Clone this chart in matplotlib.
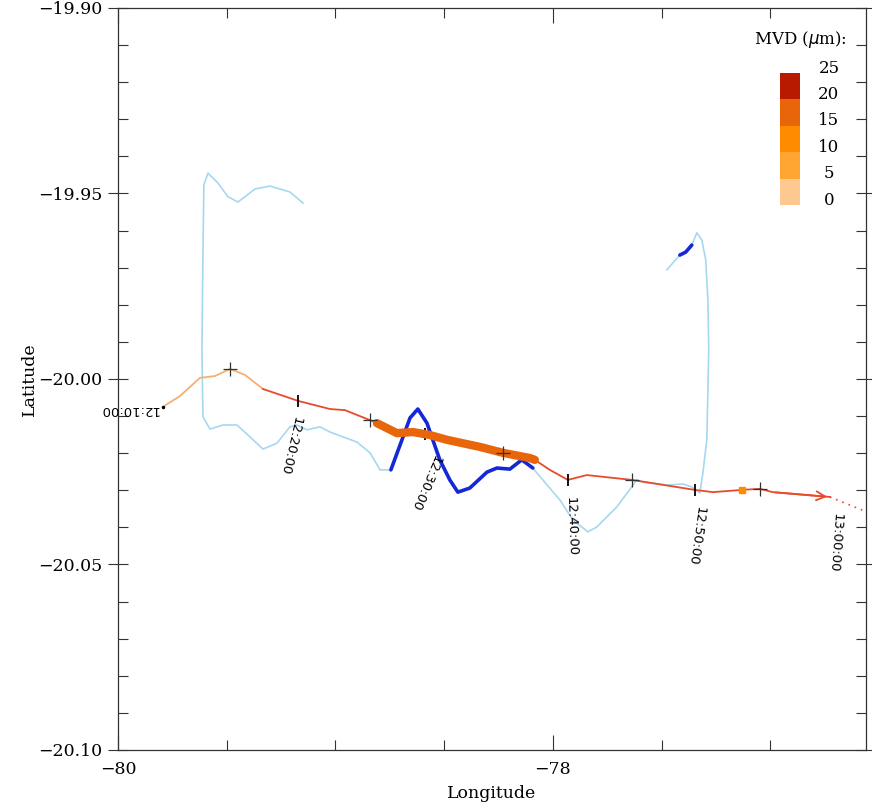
import matplotlib
matplotlib.use("Agg")
import matplotlib.pyplot as plt
from matplotlib.ticker import MultipleLocator
import numpy as np

# flight track (aircraft 1), lon/lat
track_lon = [-79.793, -79.715, -79.623, -79.554, -79.485, -79.416, -79.333, -79.172,
             -79.025, -78.956, -78.841, -78.809, -78.717, -78.644, -78.566, -78.487,
             -78.336, -78.230, -78.106, -78.083, -78.014, -77.931, -77.844, -77.637,
             -77.347, -77.264, -77.131, -77.048, -76.989, -76.726]
track_lat = [-20.0075, -20.0046, -19.9997, -19.9992, -19.9973, -19.9989, -20.0027, -20.0059,
             -20.0081, -20.0084, -20.0111, -20.0119, -20.0146, -20.0143, -20.0151, -20.0164,
             -20.0183, -20.0199, -20.0213, -20.0218, -20.0245, -20.0272, -20.0259, -20.0272,
             -20.0299, -20.0305, -20.0299, -20.0296, -20.0305, -20.0318]
# extrapolated part after 13:00
tail_lon = [-76.726, -76.566]
tail_lat = [-20.0318, -20.0356]

# MVD class of track pieces: (start index, end index, class)  class -1 = no data
track_pieces = [(0, 6, 0), (6, 11, -1), (11, 19, 3), (19, 29, -1)]
mvd_point = (-77.131, -20.0299)   # single MVD hit, 10-15 class

# second aircraft track
b_lon = [-79.149, -79.209, -79.301, -79.370, -79.448, -79.494, -79.540, -79.586, -79.605,
         -79.609, -79.614, -79.609, -79.577, -79.517, -79.453, -79.393, -79.333, -79.269,
         -79.209, -79.177, -79.131, -79.071, -79.025, -78.901, -78.841, -78.795, -78.745,
         -78.694, -78.657, -78.621, -78.579, -78.520, -78.474, -78.437, -78.382, -78.303,
         -78.257, -78.198, -78.143, -78.092, -78.074, -77.968, -77.908, -77.839, -77.798,
         -77.706, -77.614, -77.586, -77.476, -77.402, -77.361, -77.324, -77.310, -77.292,
         -77.283, -77.287, -77.297, -77.315, -77.338, -77.361, -77.389, -77.416, -77.476]
b_lat = [-19.9526, -19.9496, -19.9480, -19.9488, -19.9523, -19.9509, -19.9472, -19.9445, -19.9477,
         -19.9652, -19.9922, -20.0102, -20.0135, -20.0124, -20.0124, -20.0156, -20.0189, -20.0173,
         -20.0129, -20.0124, -20.0137, -20.0129, -20.0143, -20.0170, -20.0199, -20.0245, -20.0245,
         -20.0164, -20.0105, -20.0081, -20.0119, -20.0218, -20.0272, -20.0305, -20.0294, -20.0251,
         -20.0240, -20.0243, -20.0218, -20.0240, -20.0253, -20.0326, -20.0380, -20.0412, -20.0399,
         -20.0345, -20.0272, -20.0278, -20.0286, -20.0283, -20.0291, -20.0307, -20.0253, -20.0164,
         -19.9922, -19.9787, -19.9679, -19.9625, -19.9606, -19.9639, -19.9658, -19.9666, -19.9706]
# highlighted pieces of second track (start, end index)
b_bold = [(26, 39), (59, 61)]

# time marks
five_min_lon = [-79.485, -78.841, -78.230, -77.637, -77.048]
five_min_lat = [-19.9973, -20.0111, -20.0199, -20.0272, -20.0296]
ten_min_lon = [-79.172, -78.590, -77.931, -77.347]
ten_min_lat = [-20.0059, -20.0149, -20.0272, -20.0299]
time_labels = ["12:10:00", "12:20:00", "12:30:00", "12:40:00", "12:50:00", "13:00:00"]
label_lon = [-79.793, -79.172, -78.590, -77.931, -77.347, -76.726]
label_lat = [-20.0075, -20.0059, -20.0149, -20.0272, -20.0299, -20.0318]
label_rot = [180, -103, -113, -88, -98, -94]
label_off = [(-4, -3), (-1, -16), (12, -21), (2, -17), (5, -17), (7, -16)]

# legend classes
mvd_edges = [0, 5, 10, 15, 20, 25]
mvd_colors = ['#ffc890', '#ffa532', '#ff8c00', '#e8650a', '#b81a00']
red = '#e84a2c'
light_blue = '#a6d8f0'
dark_blue = '#1428d8'

fig = plt.figure(figsize=(8.72, 8.06), dpi=100)
ax = fig.add_axes([0.1353, 0.0695, 0.8578, 0.9206])

ax.plot(b_lon, b_lat, color=light_blue, lw=1.2, zorder=1)
for i0, i1 in b_bold:
    ax.plot(b_lon[i0:i1 + 1], b_lat[i0:i1 + 1], color=dark_blue, lw=2.6,
            solid_capstyle='round', zorder=2)

for i0, i1, c in track_pieces:
    if c < 0:
        ax.plot(track_lon[i0:i1 + 1], track_lat[i0:i1 + 1], color=red, lw=1.3, zorder=3)
    elif c == 0:
        ax.plot(track_lon[i0:i1 + 1], track_lat[i0:i1 + 1], color='#f5b070', lw=1.3, zorder=3)
    else:
        ax.plot(track_lon[i0:i1 + 1], track_lat[i0:i1 + 1], color=mvd_colors[c], lw=6,
                solid_capstyle='round', zorder=4)
ax.plot(*mvd_point, 's', color=mvd_colors[2], ms=5, zorder=4)
ax.plot(tail_lon, tail_lat, color=red, lw=1.2, ls=(0, (1, 3)), zorder=3)
ax.annotate('', xy=(track_lon[-1], track_lat[-1]), xytext=(track_lon[-2], track_lat[-2]),
            arrowprops=dict(arrowstyle='->', color=red, lw=1.3, mutation_scale=16), zorder=3)

ax.plot(five_min_lon, five_min_lat, '+', color='#333333', ms=10, mew=0.9, zorder=5)
ax.plot(ten_min_lon, ten_min_lat, '|', color='black', ms=9, mew=1.3, zorder=3.5)
ax.plot(track_lon[0], track_lat[0], '.', color='black', ms=3, zorder=5)

for t, lo, la, r, off in zip(time_labels, label_lon, label_lat, label_rot, label_off):
    ax.annotate(t, xy=(lo, la), xytext=off, textcoords='offset pixels',
                rotation=r, rotation_mode='anchor', ha='left', va='center',
                fontsize=9.5, family='DejaVu Sans')

ax.set_xlim(-80, -76.56)
ax.set_ylim(-20.10, -19.90)
ax.xaxis.set_major_locator(MultipleLocator(2))
ax.xaxis.set_minor_locator(MultipleLocator(0.5))
ax.yaxis.set_major_locator(MultipleLocator(0.05))
ax.yaxis.set_minor_locator(MultipleLocator(0.01))
ax.xaxis.set_major_formatter(lambda v, p: f"{v:.0f}".replace('-', '\u2212'))
ax.yaxis.set_major_formatter(lambda v, p: f"{v:.2f}".replace('-', '\u2212'))
ax.tick_params(which='both', direction='in', top=True, right=True, width=0.8, color='#333333')
ax.tick_params(axis='x', which='major', length=11, labelsize=12.5, pad=8)
ax.tick_params(axis='x', which='minor', length=7)
ax.tick_params(axis='y', which='major', direction='inout', length=14, labelsize=12.5, pad=4)
ax.tick_params(axis='y', which='minor', length=7)
for lab in ax.get_xticklabels() + ax.get_yticklabels():
    lab.set_family('DejaVu Serif')
for s in ax.spines.values():
    s.set_linewidth(0.9)
    s.set_color('#333333')
ax.set_xlabel('Longitude', family='DejaVu Serif', fontsize=12.5, labelpad=5)
ax.set_ylabel('Latitude', family='DejaVu Serif', fontsize=12.5, labelpad=0)

# MVD legend
lg = fig.add_axes([0.8945, 0.7457, 0.0229, 0.1638])
lg.bar(0.5, np.diff(mvd_edges), bottom=mvd_edges[:-1], width=1, color=mvd_colors)
lg.set_xlim(0, 1)
lg.set_ylim(0, 25)
lg.axis('off')
for v in mvd_edges:
    lg.text(2.45, v + 0.9, str(v), transform=lg.get_yaxis_transform(), ha='center',
            va='center', fontsize=12, family='DejaVu Serif')
lg.text(1.0, 1.25, r'MVD ($\mu$m):', transform=lg.transAxes, ha='center', va='center',
        fontsize=12, family='DejaVu Serif')

fig.savefig('out.png', dpi=100)
